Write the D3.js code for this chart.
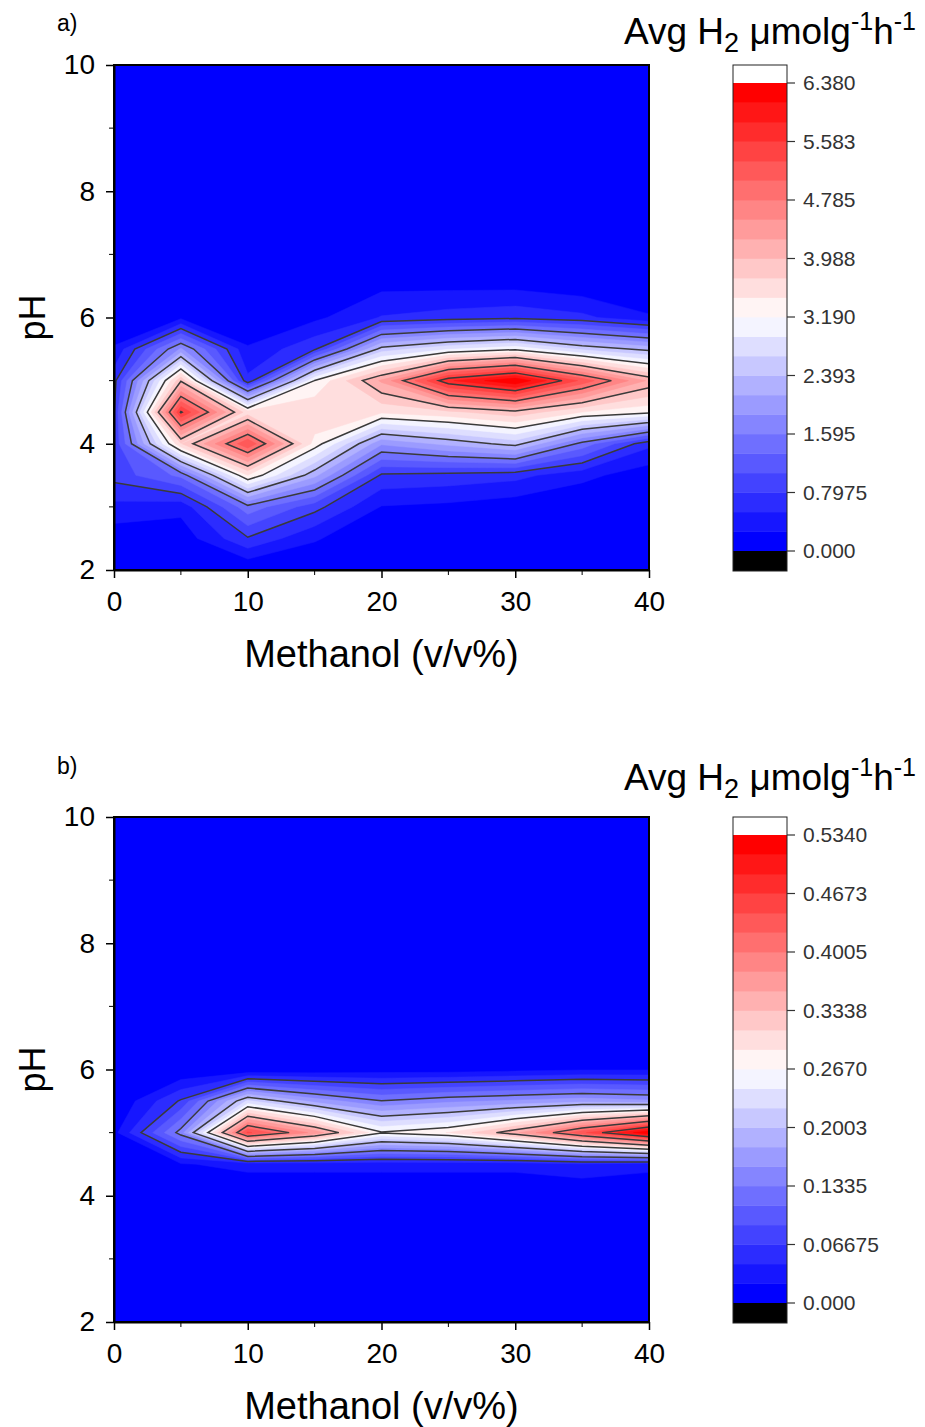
<!DOCTYPE html>
<html><head><meta charset="utf-8">
<script src="https://cdn.jsdelivr.net/npm/d3@7"></script>
<style>body{margin:0;background:#fff;} svg{display:block;} text{font-family:"Liberation Sans",Arial,sans-serif;}</style>
</head><body><svg id="chart" width="925" height="1427"></svg>
<script>
// ---- data ----
const methanol = [0, 5, 10, 15, 20, 25, 30, 35, 40];
const phValues = [2, 2.5, 3, 3.5, 4, 4.5, 5, 5.5, 6, 6.5, 7, 7.5, 8, 8.5, 9, 9.5, 10];
// rows: pH 2 -> 10, columns: methanol 0 -> 40
const rateA = [
  [0, 0, 0, 0, 0, 0, 0, 0, 0],
  [0.1, 0.1, 0.77, 0.3, 0, 0, 0, 0, 0],
  [0.45, 0.35, 1.5, 0.9, 0.25, 0.2, 0.1, 0, 0],
  [0.9, 1.4, 3.46, 2.2, 0.75, 0.7, 0.62, 0.35, 0.1],
  [0.85, 3.7, 5.3, 3.35, 1.9, 2.2, 2.5, 1.5, 0.6],
  [0.78, 5.62, 3.58, 3.7, 3.5, 3.65, 3.9, 3.45, 3.25],
  [0.7, 3.95, 0.6, 3.2, 4.3, 5.8, 6.38, 5.24, 4.2],
  [0.3, 1.9, 0.3, 0.75, 2.5, 2.9, 3.13, 2.6, 2.3],
  [0, 0.2, 0, 0.2, 0.55, 0.65, 0.72, 0.6, 0.3],
  [0, 0, 0, 0, 0.2, 0.2, 0.2, 0.1, 0],
  [0, 0, 0, 0, 0, 0, 0, 0, 0],
  [0, 0, 0, 0, 0, 0, 0, 0, 0],
  [0, 0, 0, 0, 0, 0, 0, 0, 0],
  [0, 0, 0, 0, 0, 0, 0, 0, 0],
  [0, 0, 0, 0, 0, 0, 0, 0, 0],
  [0, 0, 0, 0, 0, 0, 0, 0, 0],
  [0, 0, 0, 0, 0, 0, 0, 0, 0]
];
const rateB = [
  [0, 0, 0, 0, 0, 0, 0, 0, 0],
  [0, 0, 0, 0, 0, 0, 0, 0, 0],
  [0, 0, 0, 0, 0, 0, 0, 0, 0],
  [0, 0, 0, 0, 0, 0, 0, 0, 0],
  [0, 0, 0, 0, 0, 0, 0, 0, 0],
  [0, 0.02, 0.03, 0.03, 0.03, 0.03, 0.03, 0.04, 0.03],
  [0.015, 0.143, 0.45, 0.37, 0.27, 0.29, 0.351, 0.439, 0.534],
  [0, 0.07, 0.227, 0.17, 0.135, 0.15, 0.16, 0.17, 0.16],
  [0, 0, 0, 0.005, 0.01, 0.01, 0.015, 0.02, 0.02],
  [0, 0, 0, 0, 0, 0, 0, 0, 0],
  [0, 0, 0, 0, 0, 0, 0, 0, 0],
  [0, 0, 0, 0, 0, 0, 0, 0, 0],
  [0, 0, 0, 0, 0, 0, 0, 0, 0],
  [0, 0, 0, 0, 0, 0, 0, 0, 0],
  [0, 0, 0, 0, 0, 0, 0, 0, 0],
  [0, 0, 0, 0, 0, 0, 0, 0, 0],
  [0, 0, 0, 0, 0, 0, 0, 0, 0]
];
const maxA = 6.38, maxB = 0.534;
const cbLabelsA = ["0.000", "0.7975", "1.595", "2.393", "3.190", "3.988", "4.785", "5.583", "6.380"];
const cbLabelsB = ["0.000", "0.06675", "0.1335", "0.2003", "0.2670", "0.3338", "0.4005", "0.4673", "0.5340"];
const xTicks = [0, 10, 20, 30, 40], xMinor = [5, 15, 25, 35];
const yTicks = [2, 4, 6, 8, 10], yMinor = [3, 5, 7, 9];
const nBands = 24, lineEvery = 3;

// ---- drawing ----
const svg = d3.select("#chart");
const bandColor = d3.piecewise(d3.interpolateRgb, ["#0000ff", "#ffffff", "#ff0000"]);

function panel(offY, rows, maxV, cbLabels, label, id) {
  const left = 114, right = 649, top = 65 + offY, bottom = 570 + offY;
  const x = d3.scaleLinear().domain([0, 40]).range([left, right]);
  const y = d3.scaleLinear().domain([2, 10]).range([bottom, top]);
  const g = svg.append("g");
  const step = maxV / nBands;

  g.append("clipPath").attr("id", "clip" + id).append("rect")
    .attr("x", left).attr("y", top).attr("width", right - left).attr("height", bottom - top);
  const plot = g.append("g").attr("clip-path", "url(#clip" + id + ")");
  plot.append("rect").attr("x", left).attr("y", top).attr("width", right - left)
    .attr("height", bottom - top).attr("fill", bandColor(0));

  const nx = methanol.length, ny = phValues.length;
  const values = new Array(nx * ny);
  for (let j = 0; j < ny; j++) for (let i = 0; i < nx; i++) values[j * nx + i] = rows[ny - 1 - j][i];
  const dxm = methanol[1] - methanol[0], dph = phValues[1] - phValues[0];
  const proj = d3.geoTransform({
    point: function (gx, gy) {
      this.stream.point(x(methanol[0] + (gx - 0.5) * dxm), y(phValues[ny - 1] - (gy - 0.5) * dph));
    }
  });
  const path = d3.geoPath(proj);
  const thr = d3.range(1, nBands).map(k => k * step);
  const fills = d3.contours().size([nx, ny]).thresholds(thr)(values);
  plot.selectAll("path.fill").data(fills).join("path").attr("class", "fill")
    .attr("d", path).attr("fill", (d, i) => bandColor((i + 1) / (nBands - 1)))
    .attr("stroke", (d, i) => bandColor((i + 1) / (nBands - 1))).attr("stroke-width", 0.5);
  const lthr = d3.range(lineEvery, nBands, lineEvery).map(k => k * step);
  const lines = d3.contours().size([nx, ny]).thresholds(lthr)(values);
  plot.selectAll("path.line").data(lines).join("path").attr("class", "line")
    .attr("d", path).attr("fill", "none").attr("stroke", "#3a3a3a").attr("stroke-width", 1.5);

  // frame
  g.append("rect").attr("x", left).attr("y", top).attr("width", right - left).attr("height", bottom - top)
    .attr("fill", "none").attr("stroke", "#000").attr("stroke-width", 2);

  // axes
  const xa = g.append("g").attr("transform", `translate(0,${bottom})`)
    .call(d3.axisBottom(x).tickValues(xTicks).tickSize(8).tickSizeOuter(0).tickPadding(13).tickFormat(d3.format("d")));
  xa.append("g").selectAll("line").data(xMinor).join("line")
    .attr("x1", d => x(d)).attr("x2", d => x(d)).attr("y1", 0).attr("y2", 5).attr("stroke", "#000");
  const ya = g.append("g").attr("transform", `translate(${left},0)`)
    .call(d3.axisLeft(y).tickValues(yTicks).tickSize(8).tickSizeOuter(0).tickPadding(11).tickFormat(d3.format("d")));
  ya.append("g").selectAll("line").data(yMinor).join("line")
    .attr("y1", d => y(d)).attr("y2", d => y(d)).attr("x1", 0).attr("x2", -5).attr("stroke", "#000");
  [xa, ya].forEach(a => {
    a.select(".domain").attr("stroke", "#000").attr("stroke-width", 2);
    a.selectAll(".tick line").attr("stroke", "#000").attr("stroke-width", 1.5);
    a.selectAll(".tick text").attr("font-size", 28).attr("font-family", "Liberation Sans, Arial, sans-serif").attr("fill", "#000");
  });

  // titles
  g.append("text").attr("x", (left + right) / 2).attr("y", bottom + 97).attr("text-anchor", "middle")
    .attr("font-size", 38).text("Methanol (v/v%)");
  g.append("text").attr("transform", `translate(45,${(top + bottom) / 2}) rotate(-90)`)
    .attr("text-anchor", "middle").attr("font-size", 36).text("pH");
  g.append("text").attr("x", 57).attr("y", 31 + offY - (id === "b" ? 9 : 0)).attr("font-size", 23).text(label);

  // colour bar
  const cbL = 733, cbR = 787;
  const cy = d3.scaleLinear().domain([0, maxV]).range([top + 486, top + 18]);
  const cb = g.append("g");
  cb.append("rect").attr("x", cbL).attr("y", top).attr("width", cbR - cbL).attr("height", cy(maxV) - top).attr("fill", "#fff");
  cb.selectAll("rect.band").data(d3.range(nBands)).join("rect").attr("class", "band")
    .attr("x", cbL).attr("width", cbR - cbL)
    .attr("y", k => cy((k + 1) * step)).attr("height", k => cy(k * step) - cy((k + 1) * step) + 0.4)
    .attr("fill", k => bandColor(k / (nBands - 1)));
  cb.append("rect").attr("x", cbL).attr("y", cy(0)).attr("width", cbR - cbL).attr("height", top + 506 - cy(0)).attr("fill", "#000");
  cb.append("rect").attr("x", cbL).attr("y", top).attr("width", cbR - cbL).attr("height", 506)
    .attr("fill", "none").attr("stroke", "#222").attr("stroke-width", 1);
  const cbVals = d3.range(0, cbLabels.length).map(i => i * lineEvery * step);
  cb.selectAll("line.t").data(cbVals).join("line").attr("class", "t")
    .attr("x1", cbR).attr("x2", cbR + 8).attr("y1", d => cy(d)).attr("y2", d => cy(d)).attr("stroke", "#333").attr("stroke-width", 1.2);
  cb.selectAll("text.t").data(cbVals).join("text").attr("class", "t")
    .attr("x", cbR + 16).attr("y", d => cy(d)).attr("dy", "0.35em").attr("font-size", 21).attr("fill", "#333")
    .text((d, i) => cbLabels[i]);

  const tt = g.append("text").attr("x", 624).attr("y", 44 + offY - (id === "b" ? 6 : 0)).attr("font-size", 37);
  tt.append("tspan").text("Avg H");
  tt.append("tspan").attr("dy", 8).attr("font-size", 27).text("2");
  tt.append("tspan").attr("dy", -8).text(" \u03bcmolg");
  tt.append("tspan").attr("dy", -14).attr("font-size", 25).text("-1");
  tt.append("tspan").attr("dy", 14).text("h");
  tt.append("tspan").attr("dy", -14).attr("font-size", 25).text("-1");
}

panel(0, rateA, maxA, cbLabelsA, "a)", "a");
panel(752, rateB, maxB, cbLabelsB, "b)", "b");
</script></body></html>
